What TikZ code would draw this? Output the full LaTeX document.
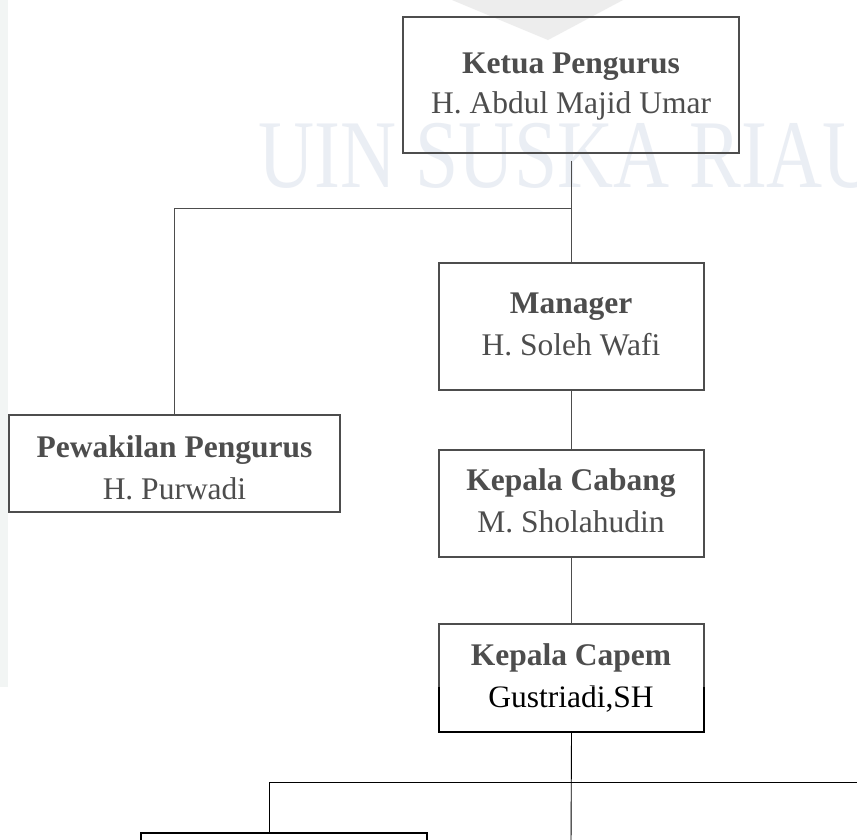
\documentclass[tikz,border=0pt]{standalone}
\usepackage{fontspec}
\setmainfont{Liberation Serif}
\definecolor{wmc}{HTML}{E2E7F0}
\definecolor{tric}{HTML}{E6E6E6}
\definecolor{stripc}{HTML}{F2F5F4}
\begin{document}
\begin{tikzpicture}[x=1pt,y=-1pt,
  box/.style={draw=black, line width=1.8pt, rectangle, inner sep=0pt},
  conn/.style={draw=black, line width=0.9pt},
  ttl/.style={font=\fontsize{31.5}{38}\selectfont\bfseries, anchor=base, inner sep=0pt},
  nm/.style={font=\fontsize{31.5}{38}\selectfont, anchor=base, inner sep=0pt}]
\useasboundingbox (0,0) rectangle (857,839);
\clip (0,0) rectangle (857,839);
\fill[white] (0,0) rectangle (857,839);
% watermark
\fill[tric] (452,0) -- (623,0) -- (548,40) -- cycle;
\node[font=\fontsize{97}{97}\selectfont, text=wmc, anchor=base west, inner sep=0pt] (wmk) at (258,187) {\scalebox{0.8}[1]{UIN SUSKA RIAU}};
% boxes
\node[box, minimum width=336pt, minimum height=136pt] (ketua) at (571,85) {};
\node[ttl] (ketuaT) at (571,73) {Ketua Pengurus};
\node[nm] (ketuaN) at (571,113) {H. Abdul Majid Umar};

\node[box, minimum width=331pt, minimum height=97pt] (pew) at (174.5,463.5) {};
\node[ttl] (pewT) at (174.5,457) {Pewakilan Pengurus};
\node[nm] (pewN) at (174.5,499) {H. Purwadi};

\node[box, minimum width=265pt, minimum height=127pt] (manager) at (571.5,326.5) {};
\node[ttl] (managerT) at (571,313) {Manager};
\node[nm] (managerN) at (571,355) {H. Soleh Wafi};

\node[box, minimum width=265pt, minimum height=107pt] (cabang) at (571.5,503.5) {};
\node[ttl] (cabangT) at (571,490) {Kepala Cabang};
\node[nm] (cabangN) at (571,532) {M. Sholahudin};

\node[box, minimum width=265pt, minimum height=108pt] (capem) at (571.5,678) {};
\node[ttl] (capemT) at (571,665) {Kepala Capem};
\node[nm] (capemN) at (571,707) {Gustriadi,SH};

\node[box, minimum width=286pt, minimum height=40pt] (bottom) at (284,853) {};

% connectors
\coordinate (j1) at (571,208);
\coordinate (j3) at (269,782);
\coordinate (rt) at (860,782);
\coordinate (bot) at (571,845);
\draw[conn, shorten <=7pt] (ketua.south) -- (ketua.south |- manager.north);
\draw[conn] (j1) -| (pew.north);
\draw[conn] (manager.south) -- (cabang.north);
\draw[conn] (cabang.south) -- (capem.north);
\draw[conn] (capem.south) -- (bot);
\draw[conn] (j3) -- (rt);
\draw[conn] (j3) -- (j3 |- bottom.north);
% faded upper part of page
\fill[white, opacity=0.3] (0,0) rectangle (857,687);
\fill[stripc] (0,0) rectangle (8,687);
\end{tikzpicture}
\end{document}
